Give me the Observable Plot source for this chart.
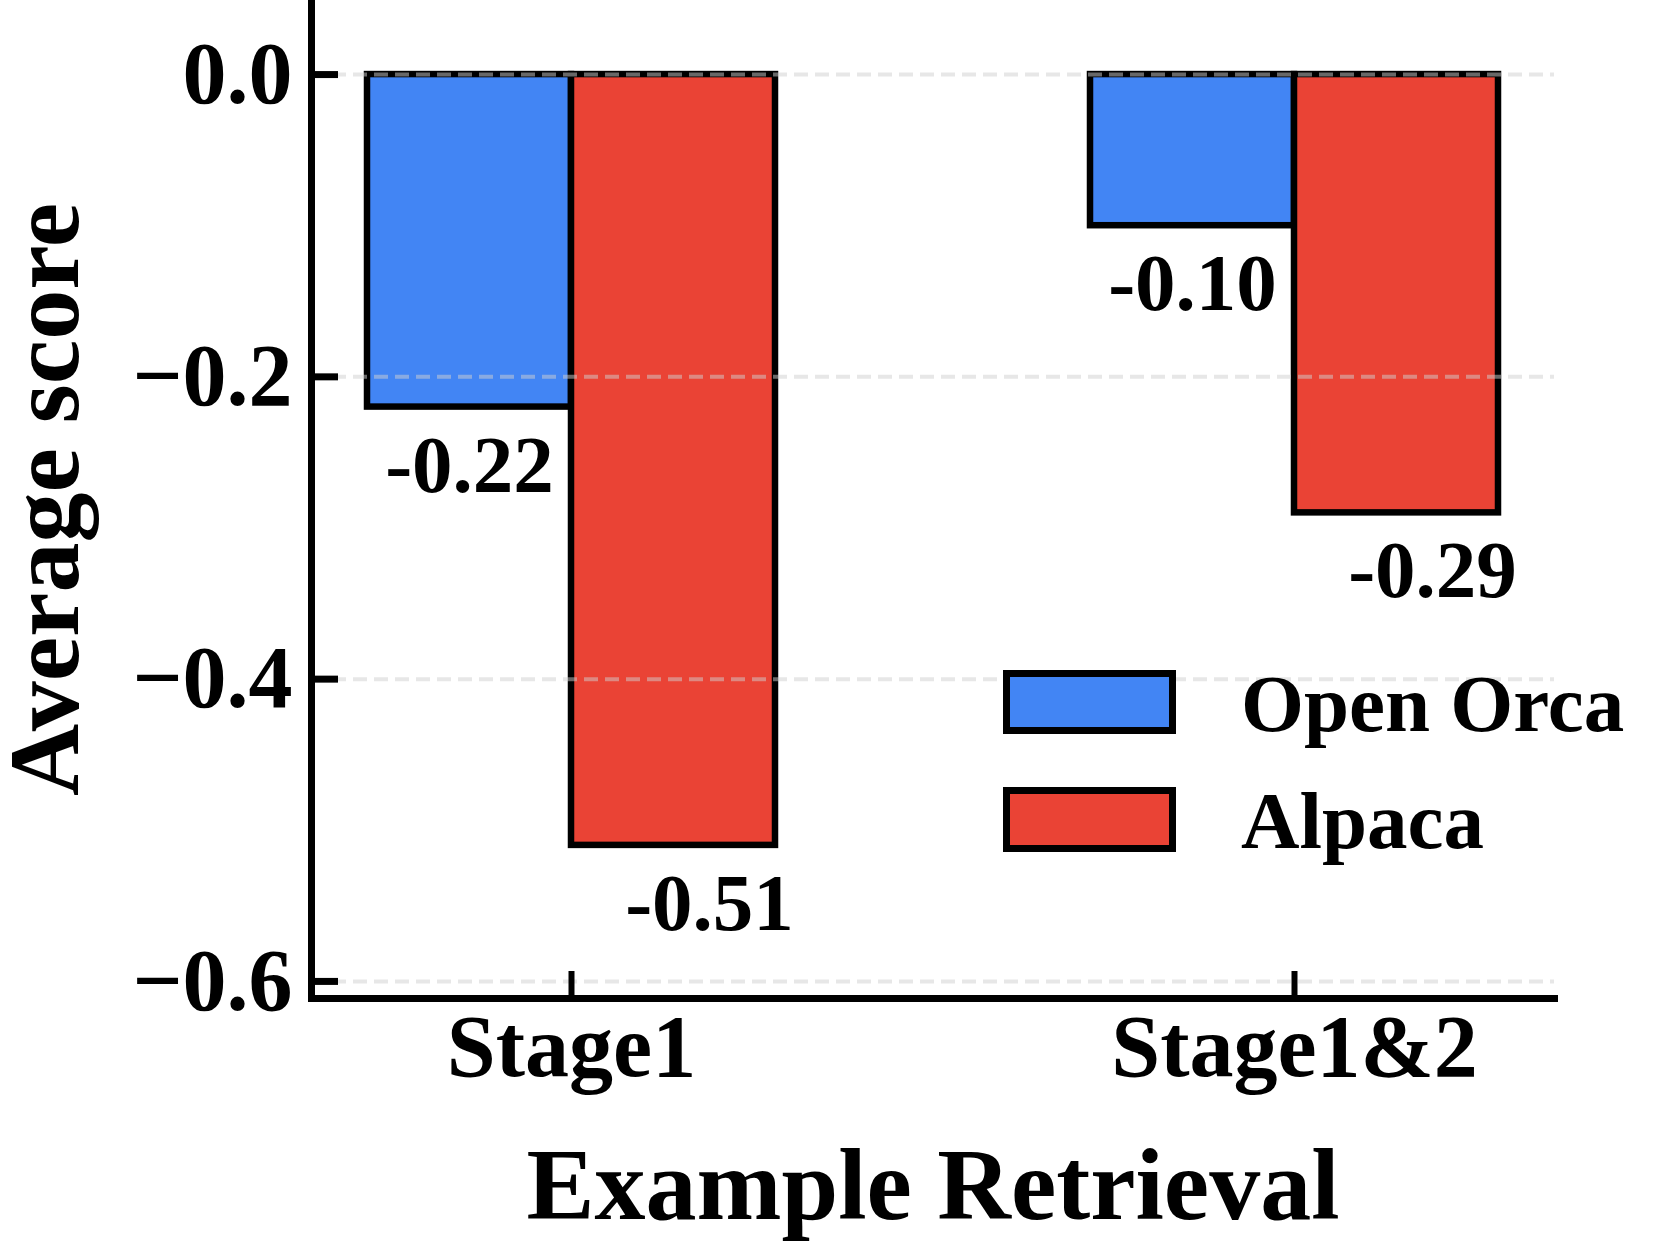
<!DOCTYPE html>
<html>
<head>
<meta charset="utf-8">
<script src="https://cdn.jsdelivr.net/npm/d3@7"></script>
<script src="https://cdn.jsdelivr.net/npm/@observablehq/plot@0.6"></script>
<style>
  html, body { margin: 0; padding: 0; background: white; }
  #chart { width: 1663px; height: 1242px; }
</style>
</head>
<body>
<div id="chart"></div>
<script>
const categories = ["Stage1", "Stage1&2"];
const series = ["Open Orca", "Alpaca"];
const openOrca = [-0.22, -0.10];
const alpaca = [-0.51, -0.29];
const yTicks = [-0.6, -0.4, -0.2, 0.0];
const colors = ["#4285F4", "#EA4335"];
const xTitle = "Example Retrieval";
const yTitle = "Average score";

const openData = categories.map((c, i) => ({category: c, series: series[0], value: openOrca[i]}));
const alpacaData = categories.map((c, i) => ({category: c, series: series[1], value: alpaca[i]}));

const fmt = d => d.value.toFixed(2);

const plot = Plot.plot({
  width: 1663,
  height: 1242,
  marginLeft: 311,
  marginRight: 109,
  marginTop: 0,
  marginBottom: 244,
  style: {fontFamily: "'Liberation Serif', 'Times New Roman', serif", fontWeight: "bold", background: "white", color: "black"},
  x: {domain: categories, paddingInner: 0.436, paddingOuter: 0.0776, axis: null},
  y: {domain: [-0.6113, 0.049], axis: null},
  color: {domain: series, range: colors},
  marks: [
    Plot.barY(openData, {x: "category", y: "value", fill: "series", stroke: "black", strokeWidth: 6.5, insetRight: 204}),
    Plot.barY(alpacaData, {x: "category", y: "value", fill: "series", stroke: "black", strokeWidth: 6.5, insetLeft: 204}),
    Plot.gridY(yTicks, {stroke: "#cfcfcf", strokeOpacity: 0.5, strokeWidth: 4, strokeDasharray: "14,7"}),
    Plot.frame({anchor: "left", strokeWidth: 7}),
    Plot.frame({anchor: "bottom", strokeWidth: 7}),
    Plot.axisY(yTicks, {tickSize: 0, tickPadding: 19, fontSize: 88, tickFormat: d3.format(".1f"), label: null}),
    Plot.axisY(yTicks, {tickSize: -27, strokeWidth: 7, fill: "none", label: null}),
    Plot.axisX({tickSize: 0, tickPadding: 15, fontSize: 88, label: null}),
    Plot.axisX({tickSize: -27, strokeWidth: 6, fill: "none", label: null}),
    Plot.text(openData, {x: "category", y: "value", text: fmt, fontSize: 81, lineAnchor: "top", dy: 27, dx: -102}),
    Plot.text(alpacaData, {x: "category", y: "value", text: fmt, fontSize: 81, lineAnchor: "top", dy: 27, dx: 138}),
    Plot.text([xTitle], {frameAnchor: "bottom", textAnchor: "middle", lineAnchor: "top", dy: 148, fontSize: 102}),
    Plot.text([yTitle], {frameAnchor: "left", textAnchor: "middle", lineAnchor: "top", rotate: -90, dx: -305, fontSize: 100})
  ]
});

// Legend drawn inside the plot area, colours taken from the plot's color scale
const color = plot.scale("color");
const lg = d3.select(plot).append("g").attr("class", "legend");
const legendRows = [
  {name: series[0], top: 670, h: 64, baseline: 731},
  {name: series[1], top: 787, h: 65, baseline: 848}
];
legendRows.forEach(r => {
  lg.append("rect")
    .attr("x", 1006.5).attr("y", r.top + 3.5)
    .attr("width", 166).attr("height", r.h - 7)
    .attr("fill", color.apply(r.name))
    .attr("stroke", "black").attr("stroke-width", 7);
  lg.append("text")
    .attr("x", 1241).attr("y", r.baseline)
    .attr("text-anchor", "start")
    .attr("font-size", 81)
    .attr("fill", "black")
    .text(r.name);
});

document.getElementById("chart").appendChild(plot);
</script>
</body>
</html>
